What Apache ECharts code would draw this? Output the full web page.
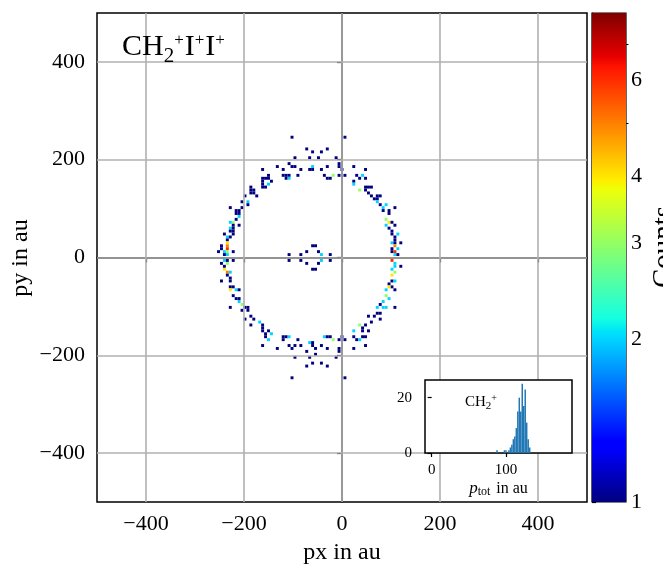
<!DOCTYPE html>
<html>
<head>
<meta charset="utf-8">
<title>CH2+ I+ I+ momentum map</title>
<script src="https://cdn.jsdelivr.net/npm/echarts@6/dist/echarts.min.js"></script>
<style>
  html, body { margin: 0; padding: 0; background: #fff; }
  #chart { width: 663px; height: 565px; }
</style>
</head>
<body>
<div id="chart"></div>
<script>
// 2D histogram cells: [px, py, counts], bin width 6 au
const BIN = 6;

const ringUpperLeft = [
  [-102,246,1],[-72,222,1],[-60,216,1],[-42,216,1],[-30,222,1],[-96,204,1],[-66,204,1],[-48,204,1],
  [-12,204,1],[-108,192,1],[-102,186,1],[-96,186,1],[-84,180,1],[-60,186,2],[-66,180,1],[-60,180,1],
  [-42,180,1],[-30,186,1],[-6,192,1],[-6,186,1],[0,180,1],[-132,186,1],[-120,180,1],[-162,180,1],
  [-120,168,1],[-114,168,1],[-108,168,1],[-114,162,1],[-108,162,2],[-90,168,1],[-36,168,1],[-30,162,1],
  [-24,162,1],[-18,168,3],[-6,168,1],[6,168,1],
  [-162,162,1],[-156,162,1],[-162,156,1],[-162,150,1],[-162,144,1],[-156,144,1],[-150,168,1],[-150,162,1],
  [-144,156,1],[-150,150,2],[-186,144,1],[-180,138,1],[-186,138,1],[-186,132,1],[-180,132,1],[-174,126,1],
  [-198,126,1],[-192,114,2],[-204,114,1],[-192,108,1],[-228,102,1],[-204,102,1],[-210,96,1],[-216,96,1],
  [-216,90,1],[-210,90,1],[-210,84,2],[-216,78,1],[-222,72,3],[-228,72,2],[-210,66,1],[-222,66,1],
  [-228,60,2],[-222,60,1],[-222,54,1],[-228,54,1],[-222,48,1],[-240,48,1],[-234,42,2],[-228,42,1],
  [-234,36,1],[-234,30,4],[-234,24,5],[-246,24,1],[-246,18,1],[-234,18,6],[-240,12,2],[-234,12,3],
  [-222,12,1],[-252,12,1],[-234,6,2],[-240,6,1]
];

const ringUpperRight = [
  [6,246,1],[24,186,1],[48,180,1],[30,168,1],[42,168,2],[36,162,1],[48,162,1],[24,156,1],
  [24,150,2],[36,138,3],[48,144,1],[48,138,1],[54,144,1],[54,132,1],[60,126,1],[60,144,1],
  [72,126,1],[78,126,1],[66,120,1],[72,120,1],[72,114,2],[78,108,1],[84,102,2],[90,108,2],
  [108,102,1],[84,96,1],[96,96,1],[96,90,1],[90,78,3],[96,72,4],[102,72,1],[108,66,1],
  [90,66,2],[96,60,1],[102,54,1],[114,48,2],[102,48,1],[108,42,1],[108,36,1],[120,30,1],
  [102,30,2],[108,30,1],[108,24,5],[114,18,2],[102,18,1],[102,12,1],[108,12,6],[108,6,2],[114,6,1]
];

const ringLowerLeft = [
  [-102,-246,1],[-72,-222,1],[-60,-216,1],[-42,-216,1],[-30,-222,1],[-96,-204,1],[-66,-204,1],[-54,-198,1],
  [-12,-204,1],[-102,-186,1],[-108,-180,1],[-96,-180,1],[-84,-180,1],[-72,-192,1],[-132,-186,1],[-162,-180,1],
  [-120,-162,1],[-114,-162,1],[-108,-162,2],[-120,-168,1],[-90,-168,1],[-66,-174,2],[-60,-174,1],[-60,-180,1],
  [-54,-186,1],[-42,-180,1],[-30,-186,1],[-36,-162,2],[-30,-162,1],[-24,-162,1],[-18,-168,3],[-6,-168,1],
  [6,-168,1],[-6,-186,1],[-6,-192,1],[0,-162,1],
  [-168,-132,2],[-162,-138,1],[-162,-150,1],[-162,-144,1],[-156,-156,1],[-150,-168,2],[-150,-150,1],[-144,-156,2],
  [-156,-162,1],[-186,-120,1],[-198,-126,1],[-180,-126,1],[-192,-108,1],[-198,-102,1],[-192,-102,1],[-186,-138,1],
  [-228,-102,1],[-204,-108,1],[-210,-90,2],[-204,-96,3],[-222,-78,1],[-210,-84,1],[-216,-84,1],[-228,-60,1],
  [-228,-66,4],[-216,-66,2],[-210,-66,1],[-222,-60,1],[-246,-48,1],[-228,-42,1],[-228,-30,2],[-234,-30,5],
  [-240,-24,4],[-240,-18,1],[-246,-12,1],[-234,-12,3],[-240,-6,2],[-222,-6,1],[-234,-6,1],[-234,-36,1],[-228,-48,1]
];

const ringLowerRight = [
  [6,-246,1],[102,-6,6],[108,-12,2],[108,-18,2],[102,-24,2],[120,-18,1],[108,-30,3],[102,-36,4],
  [102,-48,1],[108,-48,2],[96,-54,1],[102,-60,1],[108,-66,1],[96,-60,4],[90,-66,2],[90,-78,3],
  [96,-84,2],[84,-90,2],[78,-96,1],[90,-102,2],[84,-102,2],[72,-102,2],[108,-102,1],[72,-114,1],
  [78,-114,1],[66,-120,1],[54,-120,1],[78,-126,1],[60,-132,1],[48,-138,1],[42,-144,1],[54,-150,1],
  [36,-138,3],[42,-150,1],[48,-162,1],[42,-162,1],[30,-168,1],[24,-150,2],[24,-162,1],[36,-168,2],
  [48,-180,1],[24,-186,1]
];

const centreCells = [
  [-108,6,1],[-84,6,1],[-72,12,1],[-60,24,1],[-54,24,1],[-48,12,1],[-42,6,2],[-24,6,1],
  [-108,-6,1],[-84,-6,1],[-72,-12,1],[-60,-24,1],[-54,-24,1],[-48,-12,1],[-42,-6,2],[-24,-6,1]
];

// grid / tick values of the main panel
const mainTicks = [-400, -200, 0, 200, 400];

// colour bar (log scale)
const cbarMax = 8;
const cbarTicks = [1, 2, 3, 4, 6];
const cbarMinor = [5, 7];

// inset histogram of p_tot
const histEdges = [87,89,91,93,95,97,99,101,103,105,107,109,111,113,115,117,119,121,123,125,127,129,131,133];
const histCounts = [1,0,0,0,0,1,1,0,1,2,3,5,6,9,15,20,15,25,17,23,11,5,2];
const histXTicks = [0, 100];
const histYTicks = [0, 20];

// matplotlib jet
const jetStops = [
  [0, '#000080'], [0.11, '#0000ff'], [0.125, '#0000ff'], [0.34, '#00dbff'], [0.35, '#00e5f7'],
  [0.375, '#14ffe2'], [0.64, '#eeff08'], [0.65, '#f7f500'], [0.66, '#ffec00'], [0.89, '#ff1300'],
  [0.91, '#e80000'], [1, '#800000']
];

const FONT = 'Liberation Serif';

function hexRgb(h) {
  return [parseInt(h.slice(1, 3), 16), parseInt(h.slice(3, 5), 16), parseInt(h.slice(5, 7), 16)];
}
function jetColor(t) {
  t = Math.max(0, Math.min(1, t));
  for (let k = 1; k < jetStops.length; k++) {
    if (t <= jetStops[k][0]) {
      const a = jetStops[k - 1], b = jetStops[k];
      const f = (t - a[0]) / (b[0] - a[0] || 1);
      const ca = hexRgb(a[1]), cb = hexRgb(b[1]);
      const c = ca.map((v, i) => Math.round(v + (cb[i] - v) * f));
      return 'rgb(' + c.join(',') + ')';
    }
  }
  return jetStops[jetStops.length - 1][1];
}
const minus = v => (v < 0 ? '\u2212' + Math.abs(v) : String(v));

const cells = [].concat(ringUpperLeft, ringUpperRight, ringLowerLeft, ringLowerRight, centreCells);
const lnMax = Math.log(cbarMax);

const chart = echarts.init(document.getElementById('chart'));

const options = {
  animation: false,
  backgroundColor: '#fff',
  grid: [
    { left: 97, top: 13, width: 490, height: 489, show: true, borderColor: '#000', borderWidth: 1.5, z: 0,
      outerBoundsMode: 'none' },
    { left: 592, top: 13, width: 34, height: 489, show: true, borderColor: '#000', borderWidth: 1.2, z: 0,
      outerBoundsMode: 'none' },
    { left: 425, top: 380, width: 147, height: 73, show: true, backgroundColor: '#fff',
      borderColor: '#000', borderWidth: 1.5, z: 10, outerBoundsMode: 'none' }
  ],
  xAxis: [
    {
      gridIndex: 0, type: 'value', min: -500, max: 500,
      axisLine: { show: true, lineStyle: { color: '#000', width: 1.5 } },
      axisTick: { show: true, inside: false, length: 5, customValues: mainTicks, lineStyle: { color: '#000', width: 1.2 } },
      axisLabel: { customValues: mainTicks, formatter: minus, fontSize: 22, fontFamily: FONT, color: '#000', margin: 11 },
      splitLine: { show: false },
      name: 'px in au', nameLocation: 'middle', nameGap: 39,
      nameTextStyle: { fontSize: 24, fontFamily: FONT, color: '#000' }
    },
    { gridIndex: 1, type: 'value', min: 0, max: 1, show: false },
    {
      gridIndex: 2, type: 'value', min: -9, max: 189, z: 12,
      axisLine: { show: false },
      axisTick: { show: true, inside: false, length: 4, customValues: histXTicks, lineStyle: { color: '#000', width: 1.2 } },
      axisLabel: { customValues: histXTicks, fontSize: 15, fontFamily: FONT, color: '#000', margin: 10 },
      splitLine: { show: false },
      name: '{i|p}{s|tot} in au', nameLocation: 'middle', nameGap: 26,
      nameTextStyle: {
        fontSize: 16, fontFamily: FONT, color: '#000',
        rich: {
          i: { fontSize: 17, fontFamily: FONT, fontStyle: 'italic', color: '#000' },
          s: { fontSize: 12, fontFamily: FONT, color: '#000', padding: [7, 2, 0, 0] }
        }
      }
    }
  ],
  yAxis: [
    {
      gridIndex: 0, type: 'value', min: -500, max: 500,
      axisLine: { show: true, lineStyle: { color: '#000', width: 1.5 } },
      axisTick: { show: true, inside: false, length: 5, customValues: mainTicks, lineStyle: { color: '#000', width: 1.2 } },
      axisLabel: { customValues: mainTicks, formatter: minus, fontSize: 22, fontFamily: FONT, color: '#000', margin: 12 },
      splitLine: { show: false }
    },
    {
      gridIndex: 1, type: 'value', min: 0, max: lnMax, position: 'right',
      axisLine: { show: true, lineStyle: { color: '#000', width: 1.2 } },
      axisTick: { show: true, inside: false, length: 4, customValues: cbarTicks.map(Math.log), lineStyle: { color: '#000', width: 1.2 } },
      axisLabel: {
        customValues: cbarTicks.map(Math.log), formatter: v => String(Math.round(Math.exp(v))),
        fontSize: 22, fontFamily: FONT, color: '#000', margin: 5
      },
      splitLine: { show: false }
    },
    {
      gridIndex: 1, type: 'value', min: 0, max: lnMax, position: 'right',
      axisLine: { show: false },
      axisTick: { show: true, inside: false, length: 2.5, customValues: cbarMinor.map(Math.log), lineStyle: { color: '#000', width: 1 } },
      axisLabel: { show: false },
      splitLine: { show: false }
    },
    {
      gridIndex: 2, type: 'value', min: 0, max: 26.4, z: 12,
      axisLine: { show: false },
      axisTick: { show: true, inside: false, length: 4, customValues: histYTicks, lineStyle: { color: '#000', width: 1.2 } },
      axisLabel: { customValues: histYTicks, fontSize: 15, fontFamily: FONT, color: '#000', margin: 13 },
      splitLine: { show: false }
    }
  ],
  series: [
    {
      type: 'custom', xAxisIndex: 0, yAxisIndex: 0, z: 2,
      data: cells,
      renderItem: function (params, api) {
        const x = api.value(0), y = api.value(1), c = api.value(2);
        const p0 = api.coord([x - BIN / 2, y + BIN / 2]);
        const p1 = api.coord([x + BIN / 2, y - BIN / 2]);
        return {
          type: 'rect',
          shape: { x: p0[0], y: p0[1], width: p1[0] - p0[0], height: p1[1] - p0[1] },
          style: { fill: jetColor(Math.log(c) / lnMax) }
        };
      },
      markLine: {
        silent: true, symbol: ['none', 'none'], label: { show: false },
        lineStyle: { color: '#b0b0b0', width: 1.6, type: 'solid' },
        data: mainTicks.map(v => ({ xAxis: v })).concat(mainTicks.map(v => ({ yAxis: v })))
      }
    },
    {
      type: 'custom', xAxisIndex: 1, yAxisIndex: 1, z: 2,
      data: [[0, lnMax]],
      renderItem: function (params, api) {
        const p0 = api.coord([0, lnMax]);
        const p1 = api.coord([1, 0]);
        return {
          type: 'rect',
          shape: { x: p0[0], y: p0[1], width: p1[0] - p0[0], height: p1[1] - p0[1] },
          style: {
            fill: new echarts.graphic.LinearGradient(0, 1, 0, 0,
              jetStops.map(s => ({ offset: s[0], color: s[1] })))
          }
        };
      }
    },
    {
      type: 'custom', xAxisIndex: 2, yAxisIndex: 3, z: 11,
      data: histCounts.map((c, k) => [histEdges[k], histEdges[k + 1], c]),
      renderItem: function (params, api) {
        const c = api.value(2);
        if (!c) return null;
        const p0 = api.coord([api.value(0), c]);
        const p1 = api.coord([api.value(1), 0]);
        return {
          type: 'rect',
          shape: { x: p0[0], y: p0[1], width: p1[0] - p0[0], height: p1[1] - p0[1] },
          style: { fill: '#1f77b4' }
        };
      }
    }
  ],
  graphic: [
    {
      type: 'text', x: 122, y: 47, z: 20,
      style: {
        text: '{a|CH}{b|2}{c|+}{a|I}{c|+}{a|I}{c|+}',
        verticalAlign: 'middle', fill: '#000',
        rich: {
          a: { fontSize: 30, fontFamily: FONT, fill: '#000' },
          b: { fontSize: 21, fontFamily: FONT, fill: '#000', padding: [19, 0, 0, 0] },
          c: { fontSize: 17, fontFamily: FONT, fill: '#000', padding: [0, 1, 12, 0] }
        }
      }
    },
    {
      type: 'text', x: 465, y: 402, z: 20,
      style: {
        text: '{a|CH}{b|2}{c|+}',
        verticalAlign: 'middle', fill: '#000',
        rich: {
          a: { fontSize: 15, fontFamily: FONT, fill: '#000' },
          b: { fontSize: 11, fontFamily: FONT, fill: '#000', padding: [8, 0, 0, 0] },
          c: { fontSize: 10, fontFamily: FONT, fill: '#000', padding: [0, 0, 8, 0] }
        }
      }
    },
    {
      type: 'text', x: 21, y: 258, rotation: Math.PI / 2, z: 20,
      style: {
        text: 'py in au', fontSize: 24, fontFamily: FONT, fill: '#000',
        align: 'center', verticalAlign: 'middle'
      }
    },
    {
      type: 'text', x: 664, y: 247, rotation: Math.PI / 2, z: 20,
      style: {
        text: 'Counts', fontSize: 29, fontFamily: FONT, fill: '#000',
        align: 'center', verticalAlign: 'middle'
      }
    }
  ]
};

chart.setOption(options);
</script>
</body>
</html>
